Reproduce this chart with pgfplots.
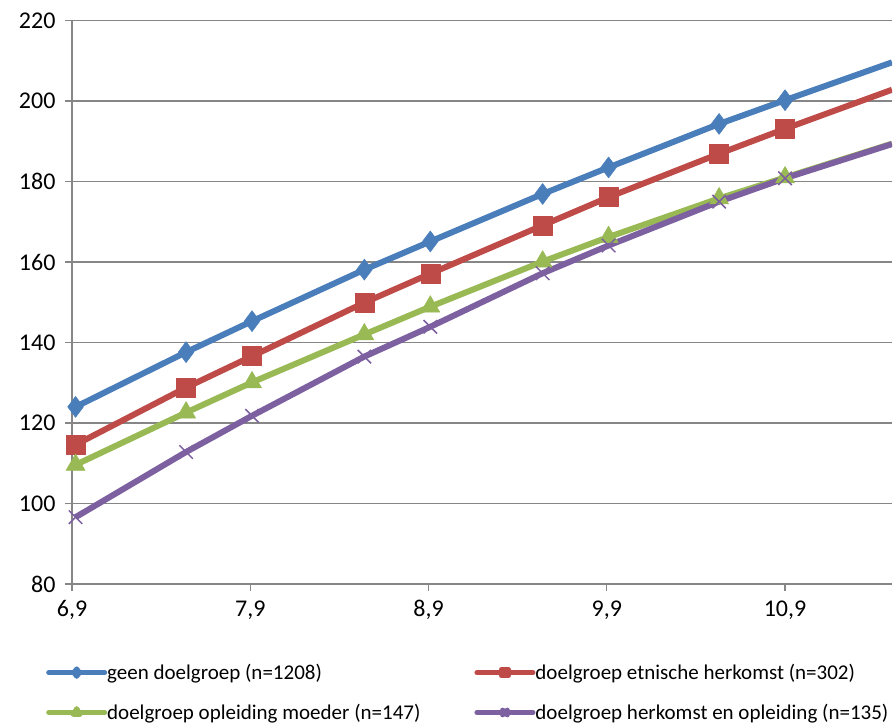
\documentclass[border=0pt]{standalone}
\usepackage{pgfplots}
\pgfplotsset{compat=1.18}
\usepackage{fontspec}
\setmainfont{Carlito}
\definecolor{cblue}{HTML}{4A7EBB}
\definecolor{cred}{HTML}{BE4B48}
\definecolor{cgreen}{HTML}{98B954}
\definecolor{cpurple}{HTML}{7D60A0}
\definecolor{gridc}{HTML}{868686}
\pgfplotstableread{
x     a      b      c      d
6.92  124.0  114.6  109.6  96.6
7.54  137.6  128.8  122.6  112.8
7.91  145.3  136.6  130.1  121.8
8.54  158.1  149.9  142.0  136.5
8.91  165.1  157.1  148.9  143.9
9.54  176.9  169.1  160.1  157.2
9.91  183.5  176.1  166.2  164.1
10.53 194.3  186.9  175.8  175.0
10.90 200.2  193.1  181.0  180.8
11.50 209.6  202.8  189.4  189.3
}\data
\begin{document}
\begin{tikzpicture}[x=1pt,y=1pt]
\useasboundingbox (0,0) rectangle (894,724);
\begin{axis}[
  at={(72pt,140pt)}, anchor=south west,
  scale only axis, width=820pt, height=563.5pt,
  xmin=6.9, xmax=11.5, ymin=80, ymax=220,
  xtick={6.9,7.9,8.9,9.9,10.9},
  xticklabels={{6,9},{7,9},{8,9},{9,9},{10,9}},
  ytick={80,100,...,220},
  axis lines*=left,
  ymajorgrids,
  grid style={gridc, line width=1.3pt},
  axis line style={gridc, line width=1.3pt},
  tick style={gridc, line width=1.3pt},
  major tick length=7pt, tick align=outside,
  ticklabel style={font=\fontsize{24}{28}\selectfont, text=black},
  /pgf/number format/assume math mode=true,
  xticklabel style={yshift=-6pt},
  yticklabel style={xshift=-6pt},
  legend columns=2,
  legend cell align=left,
  legend style={at={(0,0)}, anchor=north west, xshift=-26pt, yshift=-79pt,
    draw=none, inner sep=0pt, font=\fontsize{21}{25}\selectfont,
    nodes={inner ysep=1pt, inner xsep=0pt},
    row sep=21pt,
    /tikz/every even column/.append style={column sep=54pt}},
  legend image code/.code={
    \draw[line width=5pt, line cap=round, mark indices={2}, mark options={scale=0.35}] plot coordinates {(2pt,0pt) (30pt,0pt) (58pt,0pt)};},
]
\addplot[cblue, line width=6pt, line join=round, mark=diamond*, mark size=10.5pt, mark indices={1,2,3,4,5,6,7,8,9}, mark options={line width=0.5pt}] table[x=x,y=a] {\data};
\addlegendentry{geen doelgroep (n=1208)}
\addplot[cred, line width=6pt, line join=round, mark=square*, mark size=9.5pt, mark indices={1,2,3,4,5,6,7,8,9}, mark options={line width=0.5pt}] table[x=x,y=b] {\data};
\addlegendentry{doelgroep etnische herkomst (n=302)}
\addplot[cgreen, line width=6pt, line join=round, mark=triangle*, mark size=11pt, mark indices={1,2,3,4,5,6,7,8,9}, mark options={line width=0.5pt}] table[x=x,y=c] {\data};
\addlegendentry{doelgroep opleiding moeder (n=147)}
\addplot[cpurple, line width=6pt, line join=round, mark=x, mark size=9.5pt, mark indices={1,2,3,4,5,6,7,8,9}, mark options={line width=1.5pt}] table[x=x,y=d] {\data};
\addlegendentry{doelgroep herkomst en opleiding (n=135)}
\end{axis}
\end{tikzpicture}
\end{document}
